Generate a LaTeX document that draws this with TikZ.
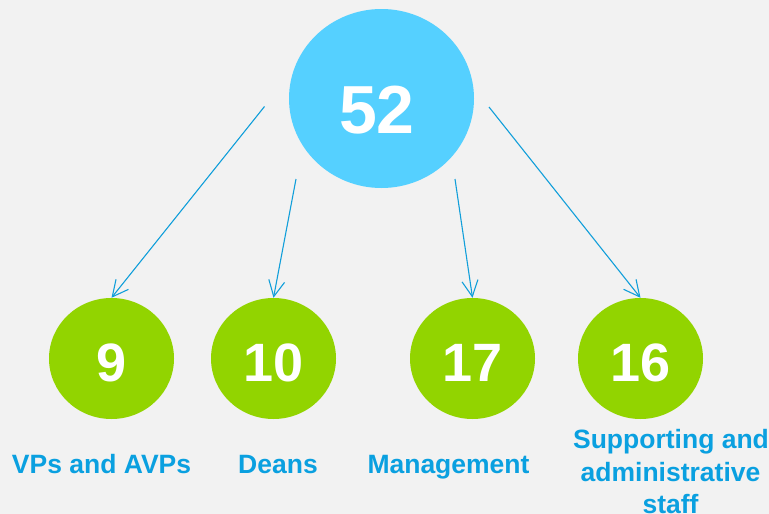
\documentclass[tikz,border=0pt]{standalone}
\usepackage{fontspec}
\setmainfont{Liberation Sans}
\usetikzlibrary{arrows.meta,shapes.geometric}
\definecolor{bg}{HTML}{F2F2F2}
\definecolor{topblue}{HTML}{55D0FF}
\definecolor{leafgreen}{HTML}{92D400}
\definecolor{labelblue}{HTML}{0AA0E0}
\definecolor{arrowblue}{HTML}{119FDA}
\begin{document}
\begin{tikzpicture}[x=1pt,y=-1pt,
  topnode/.style={ellipse, fill=topblue, draw=none, inner sep=0pt,
    minimum width=185pt, minimum height=179pt},
  leafnode/.style={ellipse, fill=leafgreen, draw=none, inner sep=0pt,
    minimum width=125pt, minimum height=121pt},
  bignum/.style={text=white, font=\fontsize{68}{68}\selectfont\bfseries, anchor=base, inner sep=0pt},
  leafnum/.style={text=white, font=\fontsize{54}{54}\selectfont\bfseries, anchor=base, inner sep=0pt, yshift=-22.5pt},
  catlabel/.style={anchor=base, inner sep=0pt, text=labelblue,
    font=\fontsize{26.5}{33}\selectfont\bfseries, align=center},
  linkarrow/.style={draw=arrowblue, line width=1.1pt,
    -{Straight Barb[length=16pt,width=16pt,line width=1.1pt]}}]
\fill[bg] (0,0) rectangle (769,514);
\useasboundingbox (0,0) rectangle (769,514);

\node[topnode] (top) at (381.5,98.5) {};
\node[bignum] (toptext) at (377,133) {52};

\node[leafnode] (n9) at (111.5,358.5) {};
\node[leafnode] (n10) at (273.5,358.5) {};
\node[leafnode] (n17) at (472.5,358.5) {};
\node[leafnode] (n16) at (640.5,358.5) {};
\node[leafnum] (t9) at (n9.center) {9};
\node[leafnum] (t10) at (n10.center) {10};
\node[leafnum] (t17) at (n17.center) {17};
\node[leafnum] (t16) at (n16.center) {16};

\coordinate (s1) at (264.5,106.5);
\coordinate (s2) at (296,179);
\coordinate (s3) at (455,179);
\coordinate (s4) at (489,107);

\draw[linkarrow] (s1) -- (n9.north);
\draw[linkarrow] (s2) -- (n10.north);
\draw[linkarrow] (s3) -- (n17.north);
\draw[linkarrow] (s4) -- (n16.north);

\node[catlabel] (l9) at (101.5,473) {VPs and AVPs};
\node[catlabel] (l10) at (278,473) {Deans};
\node[catlabel] (l17) at (448.5,473) {Management};
\node[catlabel] (l16a) at (671,448) {Supporting and};
\node[catlabel] (l16b) at (670.5,481) {administrative};
\node[catlabel] (l16c) at (670.5,513) {staff};
\end{tikzpicture}
\end{document}
